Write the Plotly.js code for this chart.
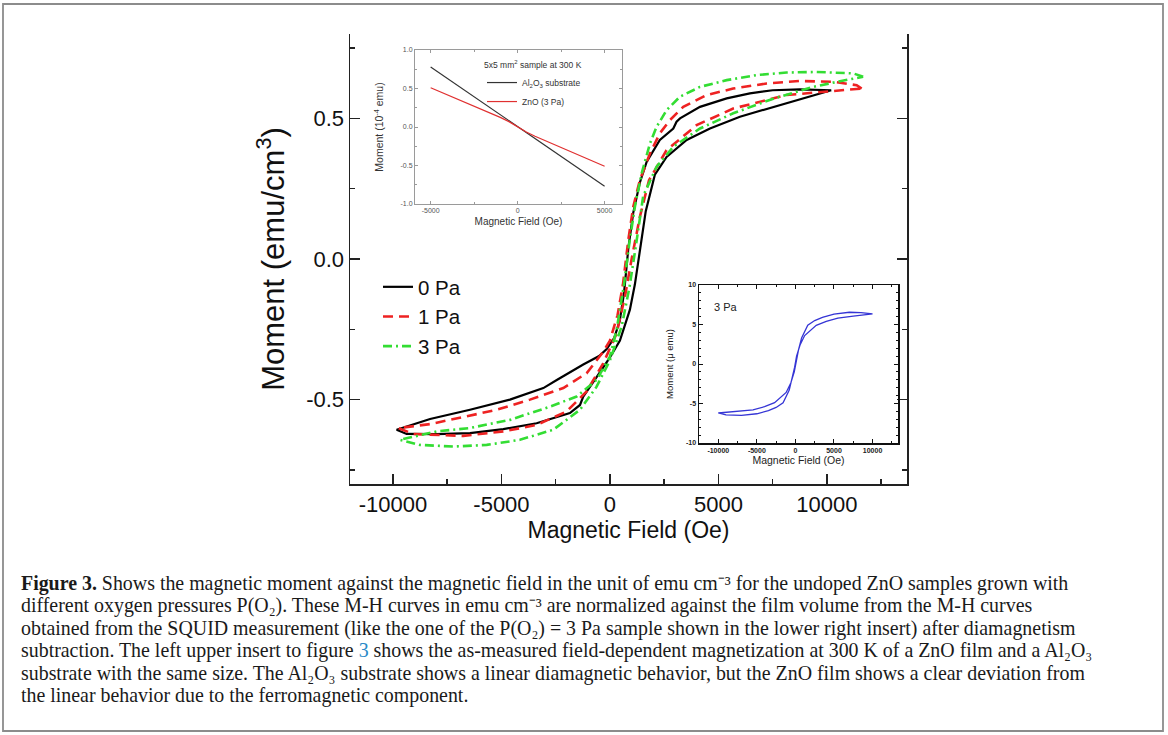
<!DOCTYPE html>
<html>
<head>
<meta charset="utf-8">
<script src="https://cdn.plot.ly/plotly-3.0.1.min.js"></script>
<style>html,body{margin:0;padding:0;background:#fff;}#chart{width:1168px;height:735px;}</style>
</head>
<body>
<div id="chart"></div>
<script>
// ---------- Main plot data (H in Oe, M in emu/cm^3) ----------
// 0 Pa loop: descending branch then ascending branch
const h0Desc = [10200,9370,8750,7500,6450,5380,4150,3230,3070,2920,2300,1690,1380,1075,850,650,450,200,-150,-500,-1230,-2450,-3070,-4610,-6450,-8290,-9830];
const m0Desc = [0.600,0.603,0.603,0.600,0.589,0.571,0.541,0.500,0.488,0.464,0.423,0.345,0.272,0.165,0.04,-0.12,-0.22,-0.28,-0.32,-0.345,-0.375,-0.43,-0.459,-0.50,-0.536,-0.569,-0.607];
const h0Asc = [-9830,-9370,-7990,-6450,-4915,-3380,-1845,-1380,-1230,-615,0,460,920,1150,1380,1650,2070,2610,3535,4610,5990,7525,9370,10200];
const m0Asc = [-0.607,-0.622,-0.623,-0.619,-0.605,-0.584,-0.548,-0.519,-0.489,-0.42,-0.35,-0.29,-0.18,-0.09,0.03,0.17,0.30,0.363,0.423,0.464,0.506,0.541,0.583,0.600];

// 1 Pa loop
const h1Desc = [11600,11370,10290,8755,7220,5680,4455,3380,2765,2300,1845,1380,1075,850,600,350,0,-310,-1075,-2150,-3685,-5220,-6760,-8290,-9750];
const m1Desc = [0.606,0.618,0.630,0.633,0.624,0.606,0.583,0.541,0.494,0.447,0.375,0.281,0.186,0.07,-0.09,-0.20,-0.29,-0.33,-0.406,-0.459,-0.50,-0.536,-0.562,-0.587,-0.601];
const h1Asc = [-9750,-9065,-6760,-4915,-3380,-1995,-1075,-310,310,700,1000,1380,1800,2610,3995,5680,8140,10600,11600];
const m1Asc = [-0.601,-0.622,-0.629,-0.613,-0.59,-0.542,-0.471,-0.371,-0.264,-0.13,0.0,0.15,0.28,0.387,0.476,0.535,0.583,0.60,0.606];

// 3 Pa loop
const h3Desc = [11670,11210,9525,8140,6760,5380,4150,3225,2610,2150,1845,1460,1150,900,650,310,0,-615,-1535,-2765,-4610,-6450,-7990,-9680];
const m3Desc = [0.648,0.660,0.665,0.663,0.654,0.636,0.612,0.577,0.529,0.470,0.411,0.304,0.186,0.06,-0.09,-0.25,-0.347,-0.43,-0.489,-0.525,-0.572,-0.601,-0.613,-0.643];
const h3Asc = [-9680,-8755,-7220,-5680,-4150,-2610,-1380,-615,0,540,900,1200,1535,2150,2920,4150,5680,7525,9370,10600,11670];
const m3Asc = [-0.643,-0.661,-0.667,-0.661,-0.643,-0.607,-0.536,-0.454,-0.36,-0.24,-0.10,0.05,0.225,0.328,0.399,0.464,0.518,0.57,0.612,0.632,0.648];

const seriesNames = ['0 Pa','1 Pa','3 Pa'];

// ---------- Upper-left inset (as measured, 10^-4 emu) ----------
const insetAField = [-5000,-2500,0,2500,5000];
const insetASubstrate = [0.78,0.39,0.0,-0.385,-0.77];
const insetZnOField = [-5000,-4000,-3000,-2000,-1000,-500,0,500,1000,2000,3000,4000,5000];
const insetZnO = [0.51,0.415,0.32,0.225,0.125,0.07,0.0,-0.065,-0.12,-0.215,-0.31,-0.41,-0.51];
const insetANames = ['Al<sub>2</sub>O<sub>3</sub> substrate','ZnO (3 Pa)'];

// ---------- Lower-right inset (3 Pa, micro emu) ----------
const insetBDescH = [10000,8500,7000,5000,3500,2500,1600,800,400,100,-150,-600,-1200,-2700,-4000,-5500,-7500,-10000];
const insetBDescM = [6.35,6.5,6.55,6.3,5.9,5.5,4.9,3.3,1.8,0.4,-1.0,-2.4,-3.6,-4.9,-5.4,-5.8,-6.0,-6.2];
const insetBAscH = [-10000,-9000,-7000,-5000,-3500,-2500,-1600,-800,-400,-100,150,600,1200,2700,4000,5500,7500,10000];
const insetBAscM = [-6.2,-6.45,-6.5,-6.3,-5.9,-5.5,-4.9,-3.3,-1.8,-0.4,1.0,2.4,3.6,4.9,5.4,5.8,6.05,6.35];

// ---------- Tick labels ----------
const mainXTicks = [-10000,-5000,0,5000,10000];
const mainXText = ['-10000','-5000','0','5000','10000'];
const mainYTicks = [-0.5,0,0.5];
const mainYText = ['-0.5','0.0','0.5'];
const insAXTicks = [-5000,0,5000];
const insAXText = ['-5000','0','5000'];
const insAYTicks = [-1,-0.5,0,0.5,1];
const insAYText = ['-1.0','-0.5','0.0','0.5','1.0'];
const insBXTicks = [-10000,-5000,0,5000,10000];
const insBXText = ['-10000','-5000','0','5000','10000'];
const insBYTicks = [-10,-5,0,5,10];
const insBYText = ['-10','-5','0','5','10'];

const captionLines = [
 '<b>Figure 3.</b> Shows the magnetic moment against the magnetic field in the unit of emu cm⁻³ for the undoped ZnO samples grown with',
 'different oxygen pressures P(O₂). These M-H curves in emu cm⁻³ are normalized against the film volume from the M-H curves',
 'obtained from the SQUID measurement (like the one of the P(O₂) = 3 Pa sample shown in the lower right insert) after diamagnetism',
 'subtraction. The left upper insert to figure <span style="color:#2a8ac8">3</span> shows the as-measured field-dependent magnetization at 300 K of a ZnO film and a Al₂O₃',
 'substrate with the same size. The Al₂O₃ substrate shows a linear diamagnetic behavior, but the ZnO film shows a clear deviation from',
 'the linear behavior due to the ferromagnetic component.'
];

// ---------- geometry helpers (pixels -> paper) ----------
const W = 1168, H = 735;
const px = v => v / W;
const py = v => 1 - v / H;

const FONT = 'Liberation Sans, Arial, sans-serif';

const traces = [
  {x: h0Desc.concat(h0Asc), y: m0Desc.concat(m0Asc), name: seriesNames[0], mode: 'lines',
   line: {color: '#000000', width: 2.2}, xaxis: 'x', yaxis: 'y', legend: 'legend'},
  {x: h1Desc.concat(h1Asc), y: m1Desc.concat(m1Asc), name: seriesNames[1], mode: 'lines',
   line: {color: '#ee2222', width: 2.6, dash: '10px,6px'}, xaxis: 'x', yaxis: 'y', legend: 'legend'},
  {x: h3Desc.concat(h3Asc), y: m3Desc.concat(m3Asc), name: seriesNames[2], mode: 'lines',
   line: {color: '#33dd33', width: 2.6, dash: '9px,4px,2px,4px'}, xaxis: 'x', yaxis: 'y', legend: 'legend'},
  {x: insetAField, y: insetASubstrate, name: insetANames[0], mode: 'lines',
   line: {color: '#333333', width: 1.2}, xaxis: 'x3', yaxis: 'y3', legend: 'legend2'},
  {x: insetZnOField, y: insetZnO, name: insetANames[1], mode: 'lines',
   line: {color: '#e03030', width: 1.2}, xaxis: 'x3', yaxis: 'y3', legend: 'legend2'},
  {x: insetBDescH.concat(insetBAscH), y: insetBDescM.concat(insetBAscM), name: '3 Pa inset', mode: 'lines',
   line: {color: '#3535d5', width: 1.3}, xaxis: 'x4', yaxis: 'y4', showlegend: false}
];

const mainAxisCommon = {
  showline: true, linecolor: '#222', linewidth: 1.5, ticks: 'inside', ticklen: 10, tickwidth: 1.5,
  tickcolor: '#222', zeroline: false, showgrid: false, automargin: false,
  tickfont: {family: FONT, size: 22, color: '#111'}
};

const layout = {
  width: W, height: H,
  margin: {l: 0, r: 0, t: 0, b: 0},
  paper_bgcolor: '#ffffff', plot_bgcolor: 'rgba(0,0,0,0)',
  font: {family: FONT, color: '#111'},
  showlegend: true,
  xaxis: Object.assign({}, mainAxisCommon, {
    domain: [px(350), px(907)], anchor: 'y', range: [-11980, 13690],
    tickmode: 'array', tickvals: mainXTicks, ticktext: mainXText,
    minor: {dtick: 2500, tick0: 0, ticks: 'inside', ticklen: 5, tickwidth: 1.5, tickcolor: '#222'},
    title: {text: 'Magnetic Field (Oe)', font: {family: FONT, size: 23, color: '#111'}, standoff: 2}
  }),
  xaxis2: {
    overlaying: 'x', side: 'top', anchor: 'y', range: [-12040, 11915],
    showline: true, linecolor: '#222', linewidth: 1.5, ticks: 'inside', ticklen: 10, tickwidth: 1.5,
    tickcolor: '#222', dtick: 5000, tick0: 0, showticklabels: false, showgrid: false, zeroline: false,
    minor: {dtick: 2500, tick0: 0, ticks: 'inside', ticklen: 5, tickwidth: 1.5, tickcolor: '#222'}
  },
  yaxis: Object.assign({}, mainAxisCommon, {
    domain: [py(484), py(34)], anchor: 'x', range: [-0.8, 0.8], mirror: 'ticks',
    tickmode: 'array', tickvals: mainYTicks, ticktext: mainYText,
    minor: {dtick: 0.25, tick0: 0, ticks: 'inside', ticklen: 5, tickwidth: 1.5, tickcolor: '#222'},
    title: {text: 'Moment (emu/cm<sup>3</sup>)', font: {family: FONT, size: 31, color: '#111'}, standoff: 12}
  }),
  // upper-left inset
  xaxis3: {
    domain: [px(415), px(622)], anchor: 'y3', range: [-5900, 6000],
    showline: true, mirror: 'allticks', linecolor: '#9a9a9a', linewidth: 1, ticks: 'inside', ticklen: 3,
    tickcolor: '#9a9a9a', tickmode: 'array', tickvals: insAXTicks, ticktext: insAXText,
    minor: {dtick: 2500, tick0: 0, ticks: 'inside', ticklen: 2, tickcolor: '#9a9a9a'},
    showgrid: false, zeroline: false, automargin: false,
    tickfont: {family: FONT, size: 7, color: '#555'},
    title: {text: 'Magnetic Field (Oe)', font: {family: FONT, size: 10, color: '#333'}, standoff: 4}
  },
  yaxis3: {
    domain: [py(204), py(50)], anchor: 'x3', range: [-1, 1],
    showline: true, mirror: 'allticks', linecolor: '#9a9a9a', linewidth: 1, ticks: 'inside', ticklen: 3,
    tickcolor: '#9a9a9a', tickmode: 'array', tickvals: insAYTicks, ticktext: insAYText,
    minor: {dtick: 0.25, tick0: 0, ticks: 'inside', ticklen: 2, tickcolor: '#9a9a9a'},
    showgrid: false, zeroline: false, automargin: false,
    tickfont: {family: FONT, size: 7, color: '#555'},
    title: {text: 'Moment (10<sup>-4</sup> emu)', font: {family: FONT, size: 10.5, color: '#333'}, standoff: 14}
  },
  // lower-right inset
  xaxis4: {
    domain: [px(699), px(898)], anchor: 'y4', range: [-12500, 13300],
    showline: true, mirror: 'allticks', linecolor: '#111', linewidth: 1.5, ticks: 'inside', ticklen: 4,
    tickcolor: '#111', tickmode: 'array', tickvals: insBXTicks, ticktext: insBXText,
    minor: {dtick: 2500, tick0: 0, ticks: 'inside', ticklen: 2, tickcolor: '#111'},
    showgrid: false, zeroline: false, automargin: false,
    tickfont: {family: FONT, size: 7, color: '#222', weight: 'bold'},
    title: {text: 'Magnetic Field (Oe)', font: {family: FONT, size: 10.5, color: '#222'}, standoff: 2}
  },
  yaxis4: {
    domain: [py(443), py(285)], anchor: 'x4', range: [-10, 10],
    showline: true, mirror: 'allticks', linecolor: '#111', linewidth: 1.5, ticks: 'inside', ticklen: 4,
    tickcolor: '#111', tickmode: 'array', tickvals: insBYTicks, ticktext: insBYText,
    minor: {dtick: 1, tick0: 0, ticks: 'inside', ticklen: 2, tickcolor: '#111'},
    showgrid: false, zeroline: false, automargin: false,
    tickfont: {family: FONT, size: 7, color: '#222', weight: 'bold'},
    title: {text: 'Moment (μ emu)', font: {family: FONT, size: 9.5, color: '#222'}, standoff: 10}
  },
  legend: {
    x: px(378), y: py(267), xanchor: 'left', yanchor: 'top', bgcolor: 'rgba(0,0,0,0)',
    font: {family: FONT, size: 20.5, color: '#111'}, tracegroupgap: 0, itemclick: false
  },
  legend2: {
    x: px(482), y: py(57), xanchor: 'left', yanchor: 'top', bgcolor: 'rgba(0,0,0,0)',
    font: {family: FONT, size: 8.5, color: '#333'},
    title: {text: '5x5 mm<sup>2</sup> sample at 300 K', font: {family: FONT, size: 8.5, color: '#333'}, side: 'top'}
  },
  shapes: [
    {type: 'rect', xref: 'paper', yref: 'paper', x0: px(3), x1: px(1163), y0: py(731), y1: py(4),
     line: {color: '#8c8c8c', width: 1.8}, fillcolor: 'rgba(0,0,0,0)', layer: 'below'}
  ],
  annotations: []
};

// caption lines
const captionY = [583, 605.5, 628, 650.5, 673, 695.5];
captionLines.forEach((t, i) => {
  layout.annotations.push({
    text: t, xref: 'paper', yref: 'paper', x: px(19), y: py(captionY[i]),
    xanchor: 'left', yanchor: 'middle', showarrow: false, align: 'left',
    font: {family: 'Liberation Serif, Times New Roman, serif', size: 19.9, color: '#1a1a1a'}
  });
});
// "3 Pa" label in lower-right inset
layout.annotations.push({
  text: '3 Pa', xref: 'paper', yref: 'paper', x: px(712), y: py(307),
  xanchor: 'left', yanchor: 'middle', showarrow: false,
  font: {family: FONT, size: 11, color: '#222'}
});

Plotly.newPlot('chart', traces, layout, {staticPlot: true, displayModeBar: false});
</script>
</body>
</html>
